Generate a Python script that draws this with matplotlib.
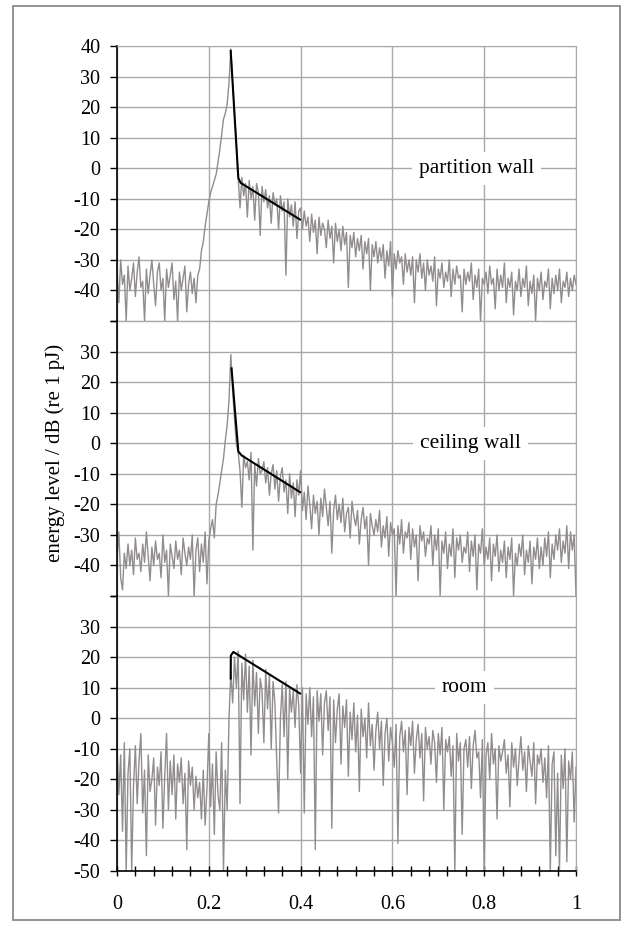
import numpy as np
import matplotlib.pyplot as plt
from matplotlib.patches import Rectangle

plt.rcParams['font.family'] = ['Liberation Serif', 'DejaVu Serif']
plt.rcParams['font.size'] = 14.5

# energy level / dB, sampled every 0.004 on the time axis (0 .. 1)
partition = [
    -33, -44, -30, -38, -35, -50, -32, -40, -36, -31,
    -42, -34, -29, -39, -37, -50, -33, -41, -35, -30,
    -38, -45, -34, -31, -40, -36, -50, -33, -39, -35,
    -31, -43, -37, -50, -34, -40, -36, -32, -47, -38,
    -34, -41, -36, -44, -35,
    -33, -27, -24, -19, -15, -11, -8, -6, -4, -2,
    2, 6, 11, 16, 18, 21, 28, 39, 28, 18, 8, -3,
    -13, -3, -9, -5, -16, -4, -10, -6, -17, -5,
    -8, -22, -6, -11, -7, -13, -9, -18, -8, -12,
    -10, -20, -9, -14, -11, -35, -10, -16, -12, -19,
    -11, -23, -14, -13,
    -20, -14, -19, -16, -24, -15, -21, -17, -28, -16,
    -22, -18, -20, -26, -17, -23, -19, -31, -18, -24,
    -20, -27, -19, -25, -21, -39, -22, -26, -21, -29,
    -23, -27, -22, -33, -24, -28, -23, -40, -25, -29,
    -24, -31, -26, -30, -25, -36, -27, -32, -24, -42,
    -28, -33, -27, -31, -29, -38, -28, -34, -30, -35,
    -29, -44, -30, -34, -28, -36, -31, -40, -30, -35,
    -32, -37, -29, -45, -33, -36, -31, -39, -34, -37,
    -30, -42, -33, -38, -32, -36, -35, -47, -33, -38,
    -34, -37, -31, -43, -35, -39, -33, -50, -36, -38,
    -34, -41, -32, -38, -36, -46, -33, -40, -35, -39,
    -31, -44, -36, -39, -34, -48, -37, -40, -33, -42,
    -36, -39, -32, -45, -37, -41, -35, -50, -36, -40,
    -34, -43, -37, -39, -33, -46, -36, -41, -35, -40,
    -33, -44, -37, -39, -34, -42, -36, -40, -35, -38,
]

ceiling = [
    -38, -29, -44, -48, -36, -41, -33, -40, -35, -43,
    -31, -38, -36, -42, -33, -39, -29, -37, -45, -34,
    -40, -32, -38, -36, -44, -30, -39, -35, -50, -33,
    -37, -41, -32, -38, -35, -43, -31, -36, -40, -34,
    -38, -30, -50, -35, -31, -42, -33, -39, -29, -46,
    -32, -28, -25, -31, -20, -17, -13, -9, -5, 1,
    6, 14, 29, 17, 8, 0, -3,
    -9, -21, -4, -8, -6, -12, -3, -35, -7, -14,
    -5, -10, -9, -6, -13, -8, -17, -10, -7, -15,
    -9, -19, -11, -8, -16, -12, -23, -10, -18, -13,
    -24, -12, -17, -9,
    -22, -16, -25, -14, -20, -28, -17, -23, -19, -30,
    -18, -24, -15, -21, -27, -19, -36, -22, -17, -25,
    -20, -26, -18, -29, -23, -21, -31, -19, -24, -27,
    -22, -33, -25, -21, -28, -24, -40, -23, -27, -30,
    -25, -29, -22, -34, -27, -31, -24, -37, -26, -30,
    -28, -50, -27, -33, -25, -36, -29, -31, -26, -38,
    -28, -34, -30, -45, -27, -32, -29, -37, -31, -33,
    -27, -40, -30, -35, -28, -50, -32, -36, -29, -41,
    -33, -37, -28, -44, -31, -35, -30, -39, -34, -36,
    -29, -42, -32, -37, -30, -48, -33, -36, -28, -40,
    -34, -38, -31, -45, -33, -37, -30, -42, -35, -39,
    -32, -44, -34, -38, -31, -50, -36, -40, -33, -37,
    -30, -43, -35, -39, -32, -46, -34, -38, -31, -41,
    -34, -40, -31, -37, -29, -44, -33, -38, -30, -35,
    -28, -39, -32, -36, -27, -41, -29, -35, -30, -50,
]

room = [
    -9, -25, -12, -37, -8, -50, -18, -10, -50, -22,
    -9, -28, -14, -5, -31, -17, -45, -12, -24, -20,
    -13, -35, -16, -22, -11, -36, -19, -5, -30, -14,
    -25, -12, -33, -15, -21, -13, -28, -18, -43, -14,
    -22, -16, -30, -19, -26, -21, -33, -17, -35, -23,
    -5, -29, -15, -38, -11, -25, -30, -8, -50, -17,
    -30, 0,
    15, 5, 20, 10, 22, -28, 18, 6, 21,
    2, 17, -12, 19, 4, 15, -5, 13, 9, -8,
    16, 3, 14, -10, 12, 5, -14, -31, 0, 11,
    -6, 12, -20, 10, 2, 9, -3, 11, 4, -18,
    10, -31, 8, -2, 10, -6, 7, -43, 9, -1,
    8, -12, 5, 9, -4, 7, -36, 6, -8, 3,
    8, -15, 4, -3, 6, -19, 2, -7, 5, -11,
    1, -24, 3, -6, 0, -13, 5, -9, -2, -17,
    -4, 2, -10, -1, -22, -5, 0, -14, -3, -8,
    -16, -2, -41, -6, -1, -11, -4, -25, -3, -9,
    -1, -18, -7, -2, -13, -5, -27, -3, -10, -6,
    -15, -4, -8, -21, -5, -12, -3, -30, -7, -11,
    -6, -19, -9, -50, -5, -14, -8, -38, -10, -7,
    -16, -6, -23, -9, -4, -13, -11, -26, -7, -50,
    -12, -8, -20, -5, -15, -10, -33, -9, -14, -11,
    -7, -18, -12, -29, -8, -16, -10, -22, -13, -6,
    -17, -11, -24, -9, -14, -19, -8, -28, -12, -15,
    -10, -21, -13, -26, -9, -50, -15, -11, -45, -18,
    -50, -12, -23, -10, -47, -14, -20, -11, -34, -16,
]

# fitted decay lines
fit_x_partition = [0.2477, 0.2643, 0.2694, 0.3987]
fit_partition = [38.4, -3.2, -4.8, -16.8]
fit_x_ceiling = [0.2495, 0.2643, 0.2716, 0.3987]
fit_ceiling = [24.5, -2.7, -4.0, -16.0]
fit_x_room = [0.2477, 0.2480, 0.2535, 0.3987]
fit_room = [13.0, 20.5, 21.7, 8.1]

names = ['partition wall', 'ceiling wall', 'room']
name_pos = [(0.784, 0), (0.770, 0), (0.757, 10)]

time = np.linspace(0, 1, len(partition))

fig = plt.figure(figsize=(6.28, 9.26), dpi=100)
fig.patches.append(Rectangle((13 / 628, 1 - 920 / 926), 607 / 628, 914 / 926,
                             transform=fig.transFigure, fill=False,
                             edgecolor='#8a8a8a', lw=1.3))

left, width = 117 / 628, 459 / 628
top, bottom = 1 - 46 / 926, 1 - 871 / 926
h = (top - bottom) / 3

series = [(partition, fit_x_partition, fit_partition),
          (ceiling, fit_x_ceiling, fit_ceiling),
          (room, fit_x_room, fit_room)]
grid_col = '#a9a9a9'

for k, (sig, fx, fy) in enumerate(series):
    ax = fig.add_axes([left, top - (k + 1) * h, width, h])
    ax.plot(time[:len(sig)], sig, color='#918d8d', lw=1.0, zorder=2)
    ax.plot(fx, fy, color='black', lw=1.5, zorder=3)
    ax.set_xlim(0, 1)
    ax.set_ylim(-50, 40)

    yt = list(range(-50, 41, 10))
    ax.set_yticks(yt)
    if k == 0:
        ylab = ['' if v == -50 else str(v) for v in yt]
    elif k == 1:
        ylab = ['' if v in (-50, 40) else str(v) for v in yt]
    else:
        ylab = ['' if v == 40 else str(v) for v in yt]
    ax.set_yticklabels(ylab)

    ax.set_xticks([0, 0.2, 0.4, 0.6, 0.8, 1.0])
    ax.grid(True, color=grid_col, lw=1.0)
    ax.set_axisbelow(True)

    ax.spines['left'].set_color('black')
    ax.spines['left'].set_linewidth(1.2)
    ax.spines['right'].set_color(grid_col)
    ax.spines['top'].set_color(grid_col)
    ax.spines['top'].set_visible(k == 0)
    ax.tick_params(axis='y', direction='out', length=5, width=1, pad=7)

    if k < 2:
        ax.spines['bottom'].set_color('#8a8a8a')
        ax.tick_params(axis='x', length=0, labelbottom=False)
    else:
        ax.spines['bottom'].set_color('black')
        ax.spines['bottom'].set_linewidth(1.2)
        ax.set_xticklabels(['0', '0.2', '0.4', '0.6', '0.8', '1'])
        ax.set_xticks(np.arange(0, 1.001, 0.04), minor=True)
        ax.tick_params(axis='x', which='both', direction='inout',
                       length=7, width=1, pad=14)

    tx, ty = name_pos[k]
    ax.text(tx, ty, names[k], ha='center', va='center', zorder=5,
            fontsize=15.5,
            bbox=dict(facecolor='white', edgecolor='none', pad=5))

fig.text(55 / 628, 1 - 453 / 926, 'energy level / dB (re 1 pJ)',
         rotation=90, ha='center', va='center', fontsize=15)

fig.savefig('out.png', dpi=100)
